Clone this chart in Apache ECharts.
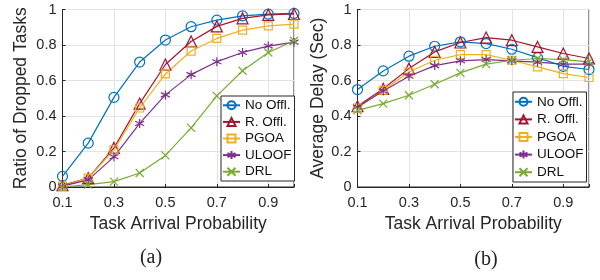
<!DOCTYPE html>
<html>
<head>
<meta charset="utf-8">
<script src="https://cdn.jsdelivr.net/npm/echarts@6/dist/echarts.min.js"></script>
<style>html,body{margin:0;padding:0;background:#fff}#c{width:600px;height:280px}</style>
</head>
<body>
<div id="c"></div>
<script>
const xs = [0.1, 0.2, 0.3, 0.4, 0.5, 0.6, 0.7, 0.8, 0.9, 1.0];
const names = ['No Offl.', 'R. Offl.', 'PGOA', 'ULOOF', 'DRL'];
const xTicks = [0.1, 0.3, 0.5, 0.7, 0.9];
const yTicks = [0, 0.2, 0.4, 0.6, 0.8, 1];

// (a) Ratio of dropped tasks
const dropNoOffl = [0.06, 0.247, 0.505, 0.704, 0.828, 0.903, 0.94, 0.964, 0.974, 0.978];
const dropROffl  = [0.01, 0.05, 0.22, 0.47, 0.69, 0.82, 0.905, 0.95, 0.97, 0.975];
const dropPGOA   = [0.005, 0.05, 0.21, 0.445, 0.637, 0.766, 0.837, 0.884, 0.908, 0.918];
const dropULOOF  = [0.005, 0.04, 0.17, 0.358, 0.519, 0.633, 0.706, 0.758, 0.794, 0.816];
const dropDRL    = [0.0, 0.013, 0.03, 0.079, 0.178, 0.333, 0.513, 0.655, 0.758, 0.824];

// (b) Average delay (sec)
const delayNoOffl = [0.549, 0.654, 0.737, 0.793, 0.818, 0.808, 0.776, 0.729, 0.68, 0.662];
const delayROffl  = [0.455, 0.553, 0.667, 0.761, 0.814, 0.842, 0.827, 0.789, 0.752, 0.724];
const delayPGOA   = [0.445, 0.545, 0.648, 0.714, 0.746, 0.746, 0.714, 0.677, 0.639, 0.617];
const delayULOOF  = [0.451, 0.541, 0.624, 0.684, 0.711, 0.718, 0.711, 0.703, 0.692, 0.692];
const delayDRL    = [0.432, 0.47, 0.517, 0.579, 0.643, 0.692, 0.714, 0.724, 0.718, 0.705];

const dropData = [dropNoOffl, dropROffl, dropPGOA, dropULOOF, dropDRL];
const delayData = [delayNoOffl, delayROffl, delayPGOA, delayULOOF, delayDRL];

const colors = ['#0072BD', '#A2142F', '#EDB120', '#7E2F8E', '#77AC30'];
const symbols = [
  'circle',
  'triangle',
  'rect',
  'path://M5,0L5,10M0.7,2.5L9.3,7.5M0.7,7.5L9.3,2.5',
  'path://M0,0L10,10M10,0L0,10'
];
const sizes = [10, 11, 8, 9, 8];

const axisColor = '#262626';
const fontSans = 'Liberation Sans, Arial, Helvetica, sans-serif';

function mkX(gi) {
  return {
    type: 'value', gridIndex: gi, min: 0.1, max: 1.0, interval: 0.2,
    name: 'Task Arrival Probability', nameLocation: 'middle', nameGap: 27,
    nameTextStyle: {fontFamily: fontSans, fontSize: 17.5, color: axisColor},
    axisLine: {show: true, lineStyle: {color: axisColor, width: 1}},
    axisTick: {show: true, inside: true, length: 3, lineStyle: {color: axisColor}},
    axisLabel: {
      fontFamily: fontSans, fontSize: 14.5, color: axisColor, margin: 8,
      formatter: v => (v > 0.95 ? '' : (Math.round(v * 10) / 10).toString())
    },
    splitLine: {show: true, lineStyle: {color: '#e3e3e3', width: 1}}
  };
}
function mkY(gi, name, gap) {
  return {
    type: 'value', gridIndex: gi, min: 0, max: 1, interval: 0.2,
    name: name, nameLocation: 'middle', nameGap: gap,
    nameTextStyle: {fontFamily: fontSans, fontSize: 17.5, color: axisColor},
    axisLine: {show: true, lineStyle: {color: axisColor, width: 1}},
    axisTick: {show: true, inside: true, length: 3, lineStyle: {color: axisColor}},
    axisLabel: {fontFamily: fontSans, fontSize: 14.5, color: axisColor, margin: 6},
    splitLine: {show: true, lineStyle: {color: '#e3e3e3', width: 1}}
  };
}

const series = [];
[dropData, delayData].forEach((set, gi) => {
  set.forEach((vals, si) => {
    series.push({
      name: names[si], type: 'line',
      xAxisIndex: gi, yAxisIndex: gi,
      data: xs.map((x, i) => [x, vals[i]]),
      symbol: symbols[si], symbolSize: sizes[si],
      showAllSymbol: true,
      lineStyle: {color: colors[si], width: 1.2},
      itemStyle: {color: 'rgba(255,255,255,0)', borderColor: colors[si], borderWidth: 1.2},
      emphasis: {disabled: true},
      animation: false
    });
  });
});

function mkLegend(left, top, lh) {
  return {
    orient: 'vertical', left: left, top: top,
    data: names,
    backgroundColor: '#fff', borderColor: axisColor, borderWidth: 1, borderRadius: 0,
    padding: [1, 3, 1, 1], itemGap: 0, itemWidth: 17, itemHeight: 10,
    textStyle: {fontFamily: fontSans, fontSize: 13.5, color: '#111', lineHeight: lh},
    selectedMode: false
  };
}

const chart = echarts.init(document.getElementById('c'), null, {renderer: 'canvas'});
chart.setOption({
  backgroundColor: '#fff',
  animation: false,
  grid: [
    {left: 62.5, top: 9.5, width: 231.5, height: 177.5, show: true, borderColor: axisColor, borderWidth: 1, backgroundColor: 'transparent'},
    {left: 357.5, top: 9.5, width: 231.5, height: 177.5, show: true, borderColor: axisColor, borderWidth: 1, backgroundColor: 'transparent'}
  ],
  xAxis: [mkX(0), mkX(1)],
  yAxis: [mkY(0, 'Ratio of Dropped Tasks', 32.5), mkY(1, 'Average Delay (Sec)', 28)],
  legend: [mkLegend(221, 96, 16.6), mkLegend(513, 92, 17.6)],
  title: [
    {text: '(a)', left: 151, top: 248, textAlign: 'center', padding: 0,
     textStyle: {fontFamily: 'Liberation Serif, serif', fontSize: 20, fontWeight: 'normal', color: '#222'}},
    {text: '(b)', left: 486, top: 250, textAlign: 'center', padding: 0,
     textStyle: {fontFamily: 'Liberation Serif, serif', fontSize: 20, fontWeight: 'normal', color: '#222'}}
  ],
  series: series
});
</script>
</body>
</html>
